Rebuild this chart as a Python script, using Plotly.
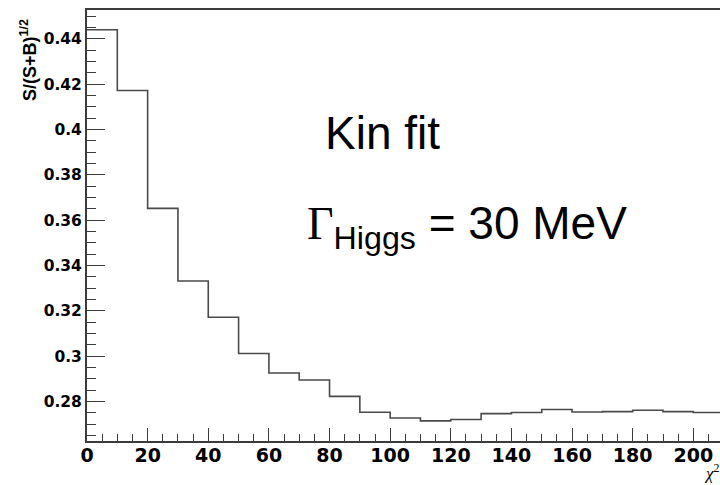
import plotly.graph_objects as go

# ---- data ----
bin_left_edges = [0, 10, 20, 30, 40, 50, 60, 70, 80, 90, 100, 110, 120, 130,
                  140, 150, 160, 170, 180, 190, 200]
significance = [0.4440, 0.4172, 0.3652, 0.3332, 0.3172, 0.3012, 0.2926, 0.2895,
                0.2823, 0.2753, 0.2728, 0.2715, 0.2721, 0.2747, 0.2752, 0.2765,
                0.2754, 0.2756, 0.2762, 0.2756, 0.2752]
bin_width = 10

x_tick_vals = [0, 20, 40, 60, 80, 100, 120, 140, 160, 180, 200]
x_tick_text = ["0", "20", "40", "60", "80", "100", "120", "140", "160", "180", "200"]
y_tick_vals = [0.28, 0.30, 0.32, 0.34, 0.36, 0.38, 0.40, 0.42, 0.44]
y_tick_text = ["0.28", "0.3", "0.32", "0.34", "0.36", "0.38", "0.4", "0.42", "0.44"]

# step outline: edges plus the closing right edge
step_x = bin_left_edges + [bin_left_edges[-1] + bin_width]
step_y = significance + [significance[-1]]

AX = "#3c3c3c"

fig = go.Figure()
fig.add_trace(go.Scatter(
    x=step_x, y=step_y, mode="lines",
    line=dict(shape="hv", color="#4a4a4a", width=1.6),
    hoverinfo="skip", showlegend=False))

fig.update_layout(
    width=720, height=485,
    margin=dict(l=87, r=0, t=10, b=44),
    paper_bgcolor="white", plot_bgcolor="white",
    showlegend=False,
)

fig.update_xaxes(
    range=[0, 208.8], showgrid=False, zeroline=False,
    showline=True, linecolor=AX, linewidth=2, mirror=True,
    tickvals=x_tick_vals, ticktext=x_tick_text,
    ticks="inside", ticklen=13, tickwidth=1.2, tickcolor=AX,
    ticklabelstandoff=-4,
    tickfont=dict(family="DejaVu Sans", size=19, color="black", weight="bold"),
    minor=dict(ticks="inside", ticklen=7, dtick=5, tick0=0, tickcolor=AX, tickwidth=1.2, showgrid=False),
)
fig.update_yaxes(
    range=[0.26263, 0.4527], showgrid=False, zeroline=False,
    showline=True, linecolor=AX, linewidth=2, mirror=False,
    tickvals=y_tick_vals, ticktext=y_tick_text,
    ticks="inside", ticklen=18, tickwidth=1.2, tickcolor=AX,
    tickfont=dict(family="DejaVu Sans", size=15.5, color="black", weight="bold"),
    minor=dict(ticks="inside", ticklen=9, dtick=0.005, tick0=0.28, tickcolor=AX, tickwidth=1.2, showgrid=False),
)

annotations = [
    dict(text="S/(S+B)<sup>1/2</sup>", textangle=-90,
         xref="paper", yref="paper", x=-0.0916, y=0.984,
         xanchor="center", yanchor="top", showarrow=False,
         font=dict(family="Arial", size=18, color="black", weight="bold")),
    dict(text="Kin fit", xref="x", yref="y", x=78.0, y=0.3985,
         xanchor="left", yanchor="middle", showarrow=False,
         font=dict(family="Arial", size=46, color="black")),
    dict(text="<span style=\"font-family:'Liberation Serif'\">\u0393</span><sub>Higgs</sub> = 30 MeV",
         xref="x", yref="y", x=72.0, y=0.3712,
         xanchor="left", yanchor="top", showarrow=False,
         font=dict(family="Arial", size=46, color="black")),
    dict(text="<i>\u03c7</i><sup>2</sup>", xref="paper", yref="paper",
         x=0.972, y=-0.1032, xanchor="left", yanchor="bottom", showarrow=False,
         font=dict(family="Liberation Serif", size=17, color="black")),
]
fig.update_layout(annotations=annotations)

fig.write_html("out.html")
